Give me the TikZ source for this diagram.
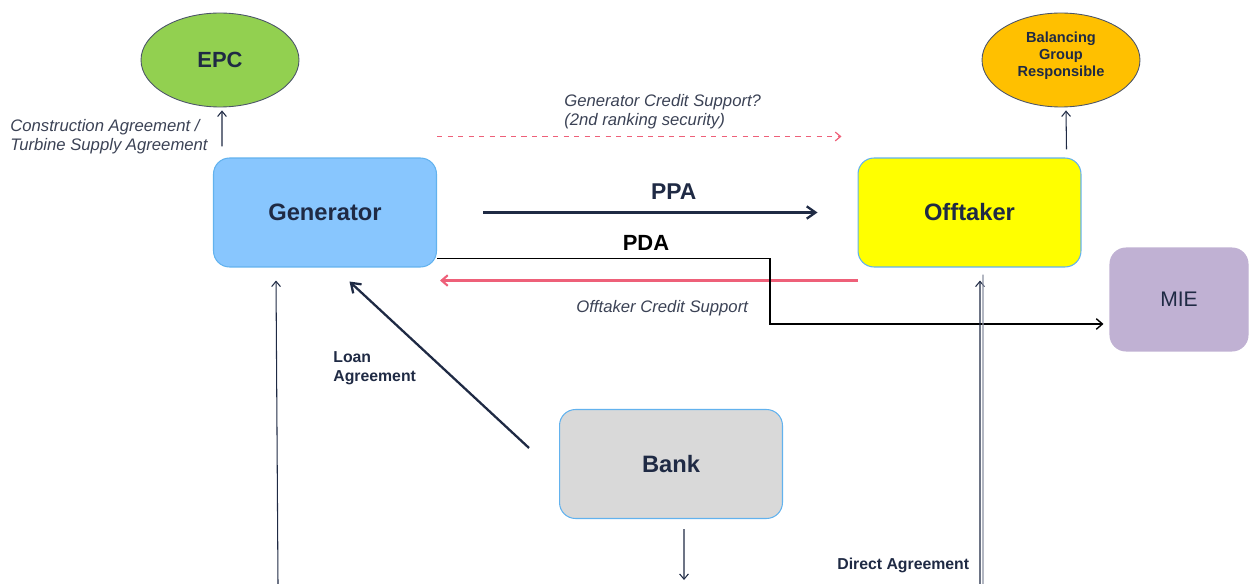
\documentclass[tikz,border=0pt]{standalone}
\usepackage{fontspec}
\setmainfont{Liberation Sans}
\usetikzlibrary{positioning, shapes.geometric, arrows.meta}

\definecolor{inkblue}{HTML}{1F2A44}
\definecolor{notegrey}{HTML}{3B4255}
\definecolor{linegrey}{HTML}{8A90A2}
\definecolor{boxedge}{HTML}{62B2EE}
\definecolor{genblue}{HTML}{88C6FE}
\definecolor{offyellow}{HTML}{FFFF00}
\definecolor{bankgrey}{HTML}{D9D9D9}
\definecolor{mielilac}{HTML}{C0B1D3}
\definecolor{epcgreen}{HTML}{92D050}
\definecolor{bgrorange}{HTML}{FFC000}
\definecolor{creditred}{HTML}{EE6079}

\newcommand{\BOXWIDTH}{4.46cm}
\newcommand{\BOXHEIGHT}{2.18cm}
\newcommand{\OVALWIDTH}{3.16cm}
\newcommand{\OVALHEIGHT}{1.88cm}

\tikzset{
    party/.style={rectangle, rounded corners=0.32cm, minimum width=\BOXWIDTH, minimum height=\BOXHEIGHT,
        draw=boxedge, line width=0.6pt, text=inkblue, font=\fontsize{13.5}{16}\selectfont\bfseries},
    oval/.style={ellipse, minimum width=\OVALWIDTH, minimum height=\OVALHEIGHT, inner sep=0pt,
        draw=inkblue!80, line width=0.5pt, text=inkblue, align=center},
    note/.style={inner sep=0pt, anchor=west, align=left, text=notegrey, font=\fontsize{9.5}{10.8}\selectfont\itshape},
    tag/.style={inner sep=0pt, anchor=west, align=left, text=inkblue, font=\fontsize{9}{10.8}\selectfont\bfseries},
    thinarrow/.style={draw=inkblue, line width=0.6pt, -{Straight Barb[length=3pt,width=5pt]}},
    thickarrow/.style={draw=inkblue, line width=1.3pt, -{Straight Barb[length=5pt,width=7pt]}},
}

\begin{document}
\begin{tikzpicture}[x=0.02cm, y=-0.02cm]
        \useasboundingbox (0, 0) rectangle (1251, 584);

        % parties
        \node[party, fill=genblue] (gen) at (325, 212.5) {Generator};
        \node[party, fill=offyellow] (off) at (969.5, 212.5) {Offtaker};
        \node[party, fill=bankgrey] (bank) at (671, 464) {Bank};
        \node[party, fill=mielilac, draw=mielilac, minimum width=2.76cm, minimum height=2.06cm,
            font=\fontsize{12}{14}\selectfont] (mie) at (1179, 299.5) {MIE};
        \node[oval, fill=epcgreen, font=\fontsize{12.5}{15}\selectfont\bfseries] (epc) at (220, 60) {EPC};
        \node[oval, fill=bgrorange, text depth=0.24cm, font=\fontsize{8.3}{9.7}\selectfont\bfseries] (bgr) at (1061, 60) {Balancing\\Group\\Responsible};

        % EPC and balancing group
        \draw[thinarrow] ([xshift=0.18cm, yshift=0.22cm]gen.north west) -- ([xshift=0.04cm, yshift=-0.06cm]epc.south);
        \node[note] (epclabel) at (10, 137) {Construction Agreement /\\Turbine Supply Agreement};
        \draw[thinarrow] ([xshift=-0.3cm, yshift=0.16cm]off.north east) -- ([xshift=0.1cm, yshift=-0.06cm]bgr.south);

        % PPA and credit support
        \draw[creditred, line width=0.7pt, dashed, -{Straight Barb[length=3pt,width=5pt]}]
            ([yshift=0.42cm]gen.north east) -- ([xshift=-0.32cm, yshift=0.42cm]off.north west);
        \node[note] (gcslabel) at (564, 112) {Generator Credit Support?\\(2nd ranking security)};
        \draw[thickarrow] ([xshift=0.92cm]gen.east) -- ([xshift=-0.8cm]off.east -| off.west) node[pos=0.57, above=0.12cm, text=inkblue, font=\fontsize{13}{15}\selectfont\bfseries] {PPA};
        \draw[creditred, line width=1.2pt, -{Straight Barb[length=3.5pt,width=6pt]}]
            ([yshift=-0.26cm]off.south west) -- ([xshift=0.06cm, yshift=-0.26cm]gen.south east);
        \node[note] (ocslabel) at (576, 308) {Offtaker Credit Support};

        % PDA to MIE
        \coordinate (pdabend) at (770, 300);
        \draw[black, line width=0.8pt, -{Straight Barb[length=3.5pt,width=6pt]}, shorten >=0.12cm]
            ([yshift=0.18cm]gen.south east) -| (pdabend) |- ([yshift=-0.49cm]mie.west);
        \node[inner sep=0pt, font=\fontsize{12.5}{15}\selectfont\bfseries] (pdalabel) at (646, 243) {PDA};

        % bank
        \draw[thickarrow] ([xshift=-0.6cm, yshift=-0.78cm]bank.north west) -- ([xshift=0.49cm, yshift=-0.28cm]gen.south);
        \node[tag] (loanlabel) at (333, 368) {Loan\\Agreement};
        \coordinate (bankout) at (684, 580);
        \draw[thinarrow] ([xshift=0.26cm, yshift=-0.2cm]bank.south) -- (bankout);

        % long lines from below
        \coordinate (genin) at (278, 584);
        \draw[thinarrow] (genin) -- ([xshift=-0.98cm, yshift=-0.26cm]gen.south);
        \coordinate (offin) at (980, 584);
        \draw[thinarrow] (offin) -- ([xshift=0.21cm, yshift=-0.26cm]off.south);
        \coordinate (offline) at (983, 584);
        \draw[linegrey, line width=0.8pt] (offline) -- ([xshift=0.27cm, yshift=-0.14cm]off.south);
        \node[tag] (directlabel) at (837, 565) {Direct Agreement};

    \end{tikzpicture}
\end{document}
